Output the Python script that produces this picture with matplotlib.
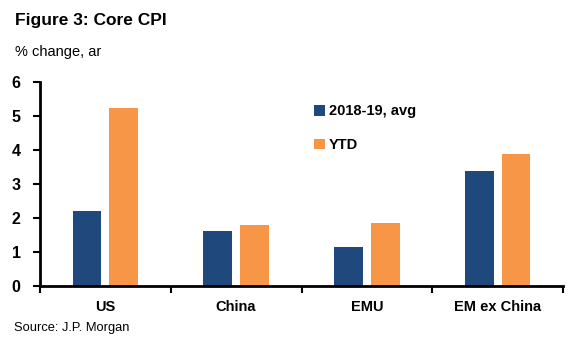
import matplotlib
matplotlib.use("Agg")
import matplotlib.pyplot as plt
import numpy as np

categories = ["US", "China", "EMU", "EM ex China"]
series_names = ["2018-19, avg", "YTD"]
avg_2018_19 = [2.2, 1.61, 1.14, 3.37]
ytd = [5.23, 1.79, 1.86, 3.88]
yticks = [0, 1, 2, 3, 4, 5, 6]
colors = ["#1F497D", "#F79646"]

plt.rcParams["font.family"] = ["Liberation Sans", "DejaVu Sans"]

W, H = 582, 351
fig = plt.figure(figsize=(W / 100, H / 100), dpi=100)
ax = fig.add_axes([40 / W, 65 / H, (563 - 40) / W, (286 - 82) / H])

x = np.arange(len(categories))
bw = 0.22
off = 0.14
ax.bar(x - off, avg_2018_19, width=bw, color=colors[0], label=series_names[0])
ax.bar(x + off, ytd, width=bw, color=colors[1], label=series_names[1])

ax.set_xlim(-0.5, len(categories) - 0.5)
ax.set_ylim(0, 6)
ax.set_yticks(yticks)
ax.set_yticklabels([str(t) for t in yticks], fontsize=11.5, fontweight="bold")
ax.set_xticks(np.arange(len(categories) + 1) - 0.5)
ax.set_xticklabels([])
ax.set_xticks(x, minor=True)
ax.set_xticklabels(categories, minor=True, fontsize=10.5, fontweight="bold")
ax.tick_params(axis="x", which="minor", length=0, pad=10)
ax.tick_params(axis="x", which="major", length=5, width=1.5, direction="out")
ax.tick_params(axis="y", length=5, width=1.5, direction="out", pad=9)

for s in ["top", "right"]:
    ax.spines[s].set_visible(False)
for s in ["left", "bottom"]:
    ax.spines[s].set_linewidth(2)
    ax.spines[s].set_color("black")

leg = ax.legend(loc="upper left", bbox_to_anchor=(307 / W, 1 - 97 / H),
                bbox_transform=fig.transFigure, frameon=False,
                handlelength=0.75, handleheight=0.75, handletextpad=0.25,
                labelspacing=1.35, borderpad=0,
                prop={"size": 10.5, "weight": "bold"})

fig.text(15 / W, 1 - 21 / H, "Figure 3: Core CPI", fontsize=12.5, fontweight="bold",
         va="center", ha="left")
fig.text(15 / W, 1 - 52 / H, "% change, ar", fontsize=10.5, va="center", ha="left")
fig.text(14 / W, 1 - 328 / H, "Source: J.P. Morgan", fontsize=9.3, va="center", ha="left")

fig.savefig("out.png", dpi=100)
